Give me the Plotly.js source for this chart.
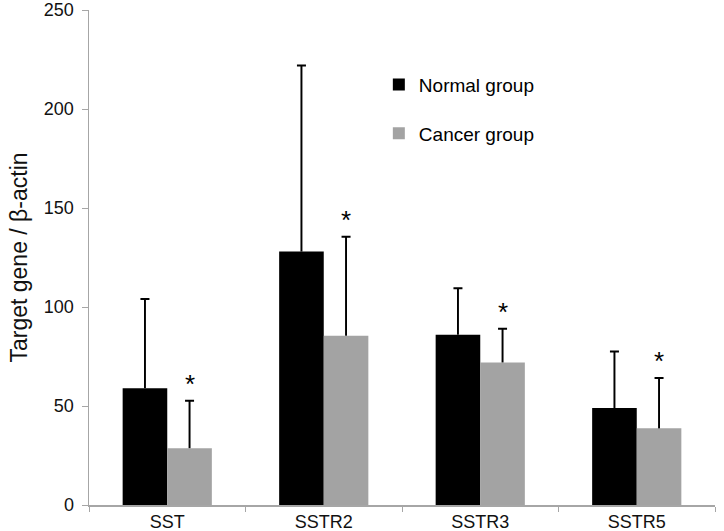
<!DOCTYPE html>
<html>
<head>
<meta charset="utf-8">
<script src="https://cdn.plot.ly/plotly-3.0.1.min.js"></script>
<style>html,body{margin:0;padding:0;background:#fff;}#chart{width:724px;height:531px;}</style>
</head>
<body>
<div id="chart"></div>
<script>
var categories = ["SST", "SSTR2", "SSTR3", "SSTR5"];
var normalMean = [59, 128, 86, 49];
var normalSD = [45, 94, 23.5, 28.5];
var cancerMean = [28.7, 85.5, 72, 38.7];
var cancerSD = [24, 50, 17, 25.4];
var seriesNames = ["Normal group", "Cancer group"];
var significance = ["*", "*", "*", "*"];
var yTicks = [0, 50, 100, 150, 200, 250];

var zeros = categories.map(function(){ return 0; });
var FONT = "Liberation Sans, Arial, sans-serif";

function meanTrace(name, y, color, group) {
  return {
    type: "bar", name: name, x: categories, y: y,
    marker: {color: color, line: {width: 0}},
    offsetgroup: group, alignmentgroup: "all", legendgroup: group
  };
}
// upward-only SD whisker: thin bar from the mean to mean+SD, capped by a zero-length error bar
function sdTrace(mean, sd, group) {
  return {
    type: "bar", x: categories, y: sd, base: mean, width: 0.0125,
    marker: {color: "#000000", line: {width: 0}},
    error_y: {type: "data", symmetric: false, array: zeros, arrayminus: zeros, color: "#000000", thickness: 2, width: 4.5},
    offsetgroup: group, alignmentgroup: "all", showlegend: false, hoverinfo: "skip"
  };
}

var traces = [
  meanTrace(seriesNames[0], normalMean, "#000000", "n"),
  meanTrace(seriesNames[1], cancerMean, "#a3a3a3", "c"),
  sdTrace(normalMean, normalSD, "n"),
  sdTrace(cancerMean, cancerSD, "c")
];

var annotations = categories.map(function(c, i){
  return {
    x: i + 0.1425, xref: "x", y: cancerMean[i] + cancerSD[i], yref: "y",
    text: significance[i], showarrow: false, yanchor: "bottom", yshift: 0,
    font: {family: FONT, size: 26, color: "#000"}
  };
});

var layout = {
  width: 724, height: 531,
  margin: {l: 89, r: 9, t: 10, b: 26, pad: 0},
  paper_bgcolor: "#fff", plot_bgcolor: "#fff",
  font: {family: FONT, size: 18, color: "#111"},
  barmode: "group", bargap: 0.43, bargroupgap: 0,
  showlegend: true,
  legend: {x: 0.463, xanchor: "left", y: 0.8876, yanchor: "top", traceorder: "grouped", tracegroupgap: 21,
           font: {family: FONT, size: 19, color: "#000"}, bgcolor: "rgba(0,0,0,0)", borderwidth: 0},
  xaxis: {
    type: "category", range: [-0.5, 3.5], showline: true, linecolor: "#a6a6a6", linewidth: 1.5,
    ticks: "outside", tickson: "boundaries", ticklen: 5, tickcolor: "#a6a6a6", tickwidth: 1,
    showgrid: false, zeroline: false, tickfont: {family: FONT, size: 18, color: "#111"}, fixedrange: true
  },
  yaxis: {
    range: [0, 250.0001], tickmode: "array", tickvals: yTicks, ticktext: yTicks.map(String),
    showline: true, linecolor: "#a6a6a6", linewidth: 1.5, ticklabeloverflow: "allow",
    ticks: "outside", ticklen: 6, tickcolor: "#a6a6a6", tickwidth: 1, ticklabelstandoff: 4,
    showgrid: false, zeroline: false, tickfont: {family: FONT, size: 18, color: "#111"},
    title: {text: "Target gene / β-actin", font: {family: FONT, size: 23, color: "#111"}, standoff: 10}
  },
  annotations: annotations
};

Plotly.newPlot("chart", traces, layout, {displayModeBar: false, staticPlot: true});
</script>
</body>
</html>
